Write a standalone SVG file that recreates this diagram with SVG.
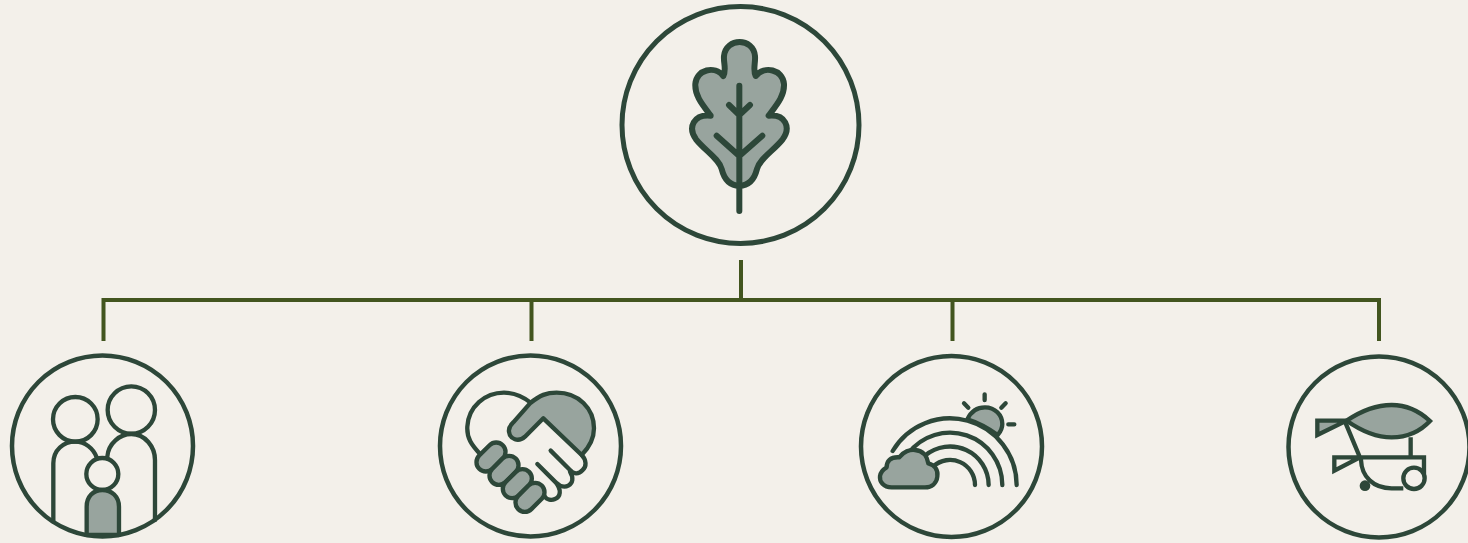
<svg xmlns="http://www.w3.org/2000/svg" width="1468" height="543" viewBox="0 0 1468 543">
<style>
.ring{fill:none;stroke:#2d4739;stroke-width:4.500}
.ln{fill:none;stroke:#2d4739;stroke-width:13;stroke-linecap:round;stroke-linejoin:round}
.gr{fill:#98a49e;stroke:#2d4739;stroke-width:13;stroke-linecap:round;stroke-linejoin:round}
.bg{fill:#f3f0ea;stroke:#2d4739;stroke-width:13}
.conn{fill:none;stroke:#42551f;stroke-width:4}
</style>
<rect width="1468" height="543" fill="#f3f0ea"/>
<g id="connectors" class="conn">
<path d="M103.500 341V300H1379V341M741 260V300M531.500 300V341M952.500 300V341"/>
</g>
<g id="node-leaf">
<circle class="ring" cx="740.500" cy="125" r="118.500" style="stroke-width:5"/>
<g transform="translate(660 20) scale(.3333)">
<path class="gr" style="stroke-width:18" d="M238 497C208 497 192 475 185 447C176 415 135 392 108 358C82 322 102 282 152 287C128 255 104 228 106 192C110 148 164 136 190 168C200 150 190 128 192 108C198 52 280 52 285 108C287 128 278 150 287 168C313 136 368 148 372 192C374 228 350 255 326 287C376 282 394 322 368 358C341 392 300 415 291 447C284 475 268 497 238 497Z"/>
<path class="ln" style="stroke-width:18" d="M238 197V573M207 255L238 285L270 255M170 347L238 408L307 347"/>
</g>
</g>
<g id="node-family">
<circle class="ring" cx="102.500" cy="446" r="90.500"/>
<g transform="translate(0 350) scale(.3333)">
<circle class="ln" cx="226" cy="208" r="67"/>
<circle class="ln" cx="394" cy="180" r="71"/>
<circle class="ln" cx="307" cy="372" r="48"/>
<path class="ln" d="M160 515V340C160 300 190 275 226 275C255 275 280 295 290 322M322 320C325 280 360 252 394 252C435 252 465 290 465 330V510"/>
<path class="gr" d="M260 555V470C260 440 280 420 307 420C335 420 357 440 357 470V555Z"/>
</g>
</g>
<g id="node-hands">
<circle class="ring" cx="530.500" cy="446" r="90.500"/>
<g transform="translate(430 350) scale(.3333)">
<path class="ln" d="M150 312C125 285 110 265 112 230C115 170 165 128 222 128C255 128 280 140 305 160"/>
<path class="ln" d="M455 315C470 330 470 350 458 360C445 375 430 372 420 360L362 302M420 365C432 385 428 400 415 407C400 415 385 405 378 398L322 342M378 398C395 420 392 440 375 447C365 452 350 450 345 440"/>
<path class="gr" d="M300 160C330 135 350 128 380 128C445 128 492 175 492 235C492 265 480 290 455 315L340 205L285 260C265 278 240 268 237 245C235 230 245 222 250 217Z"/>
<g class="gr">
<rect x="-50" y="-28" width="100" height="56" rx="28" transform="translate(183 321) rotate(-45)"/>
<rect x="-50" y="-28" width="100" height="56" rx="28" transform="translate(222 361) rotate(-45)"/>
<rect x="-50" y="-28" width="100" height="56" rx="28" transform="translate(262 401) rotate(-45)"/>
<rect x="-50" y="-28" width="100" height="56" rx="28" transform="translate(300 442) rotate(-45)"/>
</g>
</g>
</g>
<g id="node-rainbow">
<circle class="ring" cx="951.500" cy="446.500" r="90.500"/>
<g transform="translate(850 350) scale(.3333)">
<path class="gr" d="M352 208C365 180 385 172 405 172C435 172 457 195 457 222C457 235 452 245 443 255C415 235 385 218 352 208Z"/>
<path class="ln" d="M404 133V150M342 160L355 173M467 160L454 173M475 223H493"/>
<path class="ln" d="M128 303A200 200 0 0 1 500 405M175 310A157 157 0 0 1 457 405M225 317A116 116 0 0 1 416 405M250 349A75 75 0 0 1 375 405"/>
<path class="gr" d="M125 412C100 412 88 395 90 378C92 365 100 358 110 352C110 335 120 320 148 322C160 305 180 298 195 300C220 302 232 320 235 340C255 345 265 360 262 380C260 400 245 412 225 412Z"/>
</g>
</g>
<g id="node-wheelbarrow">
<circle class="ring" cx="1379" cy="447" r="90.500"/>
<g transform="translate(1280 350) scale(.3333)">
<path class="gr" style="stroke-linecap:butt;stroke-linejoin:miter" d="M200 212H112V255Z"/>
<path class="gr" style="stroke-linejoin:miter" d="M200 212C240 185 285 165 335 165C385 165 420 185 450 213C420 245 385 262 335 262C285 262 240 240 200 212Z"/>
<path class="ln" style="stroke-linecap:butt;stroke-linejoin:miter" d="M195 215L243 330C245 380 280 415 335 415H370M392 262V322M240 322L163 362V322H432V385"/>
<circle class="bg" cx="402" cy="385" r="32"/>
<circle cx="255" cy="407" r="16" fill="#2d4739"/>
</g>
</g>
</svg>
